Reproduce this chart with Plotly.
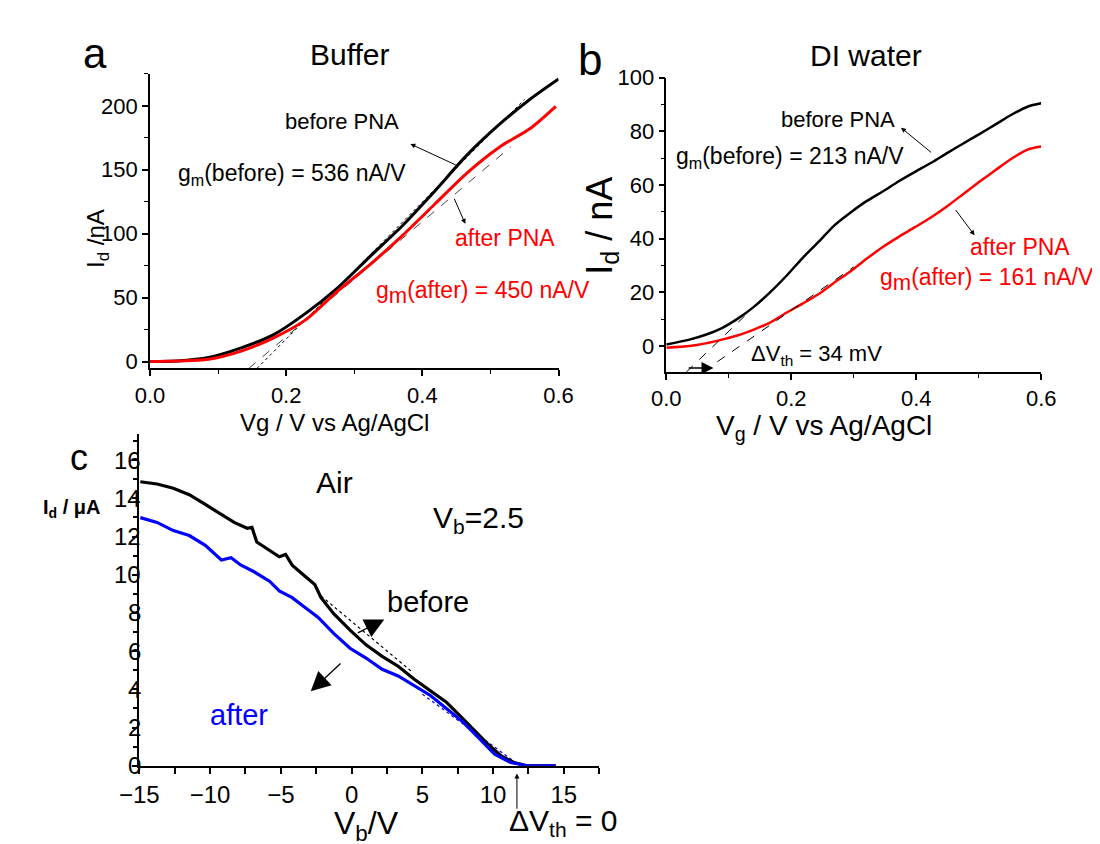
import plotly.graph_objects as go

W, H = 1100, 844
FONT = "Liberation Sans, Arial, sans-serif"

# ---------------- data: panel a (Buffer) ----------------
a_before_vg = [0.0, 0.039, 0.086, 0.134, 0.181, 0.228, 0.276, 0.323, 0.371, 0.418, 0.465, 0.513, 0.56, 0.6]
a_before_id = [0.0, 0.5, 3.2, 10.7, 20.9, 37.5, 57.9, 82.1, 106.4, 133.2, 161.2, 185.4, 205.9, 221.0]
a_after_vg = [0.0, 0.039, 0.086, 0.134, 0.181, 0.228, 0.276, 0.323, 0.371, 0.418, 0.465, 0.513, 0.56, 0.596]
a_after_id = [0.0, 0.4, 1.8, 8.2, 18.4, 32.4, 55.3, 75.8, 98.7, 123.0, 147.2, 167.6, 182.9, 199.5]
a_fit_before_vg = [0.157, 0.55]
a_fit_before_id = [-5.4, 205.0]
a_fit_after_vg = [0.145, 0.53]
a_fit_after_id = [-5.4, 168.0]

# ---------------- data: panel b (DI water) ----------------
b_before_vg = [0.0, 0.037, 0.063, 0.089, 0.115, 0.14, 0.166, 0.192, 0.218, 0.244, 0.269, 0.295, 0.321,
               0.347, 0.372, 0.398, 0.424, 0.45, 0.476, 0.501, 0.527, 0.553, 0.579, 0.6]
b_before_id = [0.6, 2.4, 4.2, 6.7, 10.3, 14.6, 20.0, 26.1, 32.8, 38.9, 45.0, 49.8, 54.1,
               57.7, 61.4, 64.9, 68.3, 72.0, 75.6, 79.0, 82.6, 86.3, 89.3, 90.5]
b_after_vg = b_before_vg
b_after_id = [-0.6, 0.0, 1.0, 2.4, 4.0, 6.1, 8.7, 12.4, 15.8, 19.4, 23.7, 27.9, 32.6,
              37.0, 40.7, 44.3, 48.0, 52.2, 56.8, 61.2, 65.6, 69.9, 73.3, 74.4]
b_fit_before_vg = [0.032, 0.138]
b_fit_before_id = [-9.7, 14.0]
b_fit_after_vg = [0.058, 0.30]
b_fit_after_id = [-9.7, 29.5]

# ---------------- data: panel c (Air) ----------------
c_before_vb = [-14.93, -13.75, -12.6, -11.47, -10.34, -9.2, -8.3, -7.38, -7.04, -6.7, -5.8, -5.11, -4.66,
               -4.2, -3.29, -2.6, -2.16, -1.25, -0.11, 1.02, 2.16, 3.29, 4.43, 5.57, 6.7, 7.84, 8.75,
               9.66, 10.57, 11.48, 12.39, 14.43]
c_before_id = [14.87, 14.75, 14.53, 14.19, 13.68, 13.16, 12.74, 12.43, 12.48, 11.71, 11.28, 10.94, 11.06,
               10.5, 9.92, 9.49, 8.8, 7.95, 7.1, 6.33, 5.73, 5.21, 4.53, 3.93, 3.33, 2.48, 1.8,
               1.11, 0.51, 0.17, 0.0, 0.0]
c_after_vb = [-14.93, -13.75, -12.6, -11.47, -10.34, -9.2, -8.52, -7.84, -6.93, -5.8, -5.11, -4.2, -3.29,
              -2.38, -1.25, -0.11, 1.02, 2.16, 3.29, 4.43, 5.57, 6.7, 7.84, 8.98, 10.11, 11.25, 12.39, 14.43]
c_after_id = [12.99, 12.74, 12.31, 12.05, 11.54, 10.77, 10.89, 10.51, 10.17, 9.66, 9.15, 8.8, 8.29,
              7.78, 6.92, 6.15, 5.64, 5.05, 4.7, 4.19, 3.68, 3.0, 2.31, 1.46, 0.6, 0.17, 0.0, 0.0]
c_fit_before_vb = [-2.16, 4.2]
c_fit_before_id = [8.89, 4.96]
c_fit_after_vb = [5.0, 11.9]
c_fit_after_id = [3.75, 0.0]
c_ytick_vals = [0, 2, 4, 6, 8, 10, 12, 14, 16]
c_ytick_text = ["0", "2", "4", "6", "8", "10", "12", "14", "16"]


def P(px, py):
    return px / W, 1 - py / H


fig = go.Figure()


def line(x, y, color, width, xa, ya, dash="solid", shape="linear"):
    fig.add_trace(go.Scatter(x=x, y=y, mode="lines", xaxis=xa, yaxis=ya,
                             line=dict(color=color, width=width, dash=dash, shape=shape,
                                       smoothing=0.7 if shape == "spline" else None),
                             showlegend=False, hoverinfo="skip"))


# panel a
line(a_fit_before_vg, a_fit_before_id, "black", 1, "x", "y", "dot")
line(a_fit_after_vg, a_fit_after_id, "#444", 1, "x", "y", "dash")
line(a_before_vg, a_before_id, "black", 3, "x", "y", shape="spline")
line(a_after_vg, a_after_id, "#ff0000", 3, "x", "y", shape="spline")
# panel b
line(b_before_vg, b_before_id, "black", 2.5, "x2", "y2", shape="spline")
line(b_after_vg, b_after_id, "#ff0000", 2.5, "x2", "y2", shape="spline")
line(b_fit_before_vg, b_fit_before_id, "black", 1, "x2", "y2", "dash")
line(b_fit_after_vg, b_fit_after_id, "black", 1, "x2", "y2", "dash")
# panel c
line(c_fit_before_vb, c_fit_before_id, "black", 1.2, "x3", "y3", "dot")
line(c_fit_after_vb, c_fit_after_id, "#0000ff", 1.2, "x3", "y3", "dot")
line(c_before_vb, c_before_id, "black", 3.2, "x3", "y3")
line(c_after_vb, c_after_id, "#0000ff", 3.2, "x3", "y3")

axis_common = dict(showgrid=False, zeroline=False, showline=True, linecolor="black",
                   ticks="outside", tickcolor="black", mirror=False,
                   tickfont=dict(family=FONT, size=22, color="black"))

fig.update_layout(
    width=W, height=H, margin=dict(l=0, r=0, t=0, b=0),
    paper_bgcolor="white", plot_bgcolor="white", showlegend=False,
    xaxis=dict(domain=[126 / W, 548 / W], range=[0, 0.6], anchor="y", dtick=0.2, tick0=0,
               tickformat=".1f", linewidth=1.5, tickwidth=1.5, ticklen=6,
               minor=dict(dtick=0.1, ticks="outside", ticklen=4, tickcolor="black", tickwidth=1.2),
               **axis_common),
    yaxis=dict(domain=[1 - 356 / H, 1 - 55 / H], range=[-5.36, 225], anchor="x", dtick=50, tick0=0,
               linewidth=1.5, tickwidth=1.5, ticklen=6,
               minor=dict(dtick=25, ticks="outside", ticklen=4, tickcolor="black", tickwidth=1.2),
               **axis_common),
    xaxis2=dict(domain=[659.3 / W, 1046.5 / W], range=[0, 0.6], anchor="y2", dtick=0.2, tick0=0,
                tickformat=".1f", linewidth=1.5, tickwidth=1.5, ticklen=6,
                minor=dict(dtick=0.1, ticks="outside", ticklen=4, tickcolor="black", tickwidth=1.2),
                **axis_common),
    yaxis2=dict(domain=[1 - 360 / H, 1 - 59 / H], range=[-9.8, 100], anchor="x2", dtick=20, tick0=0,
                linewidth=1.5, tickwidth=1.5, ticklen=6,
                minor=dict(dtick=10, ticks="outside", ticklen=4, tickcolor="black", tickwidth=1.2),
                **axis_common),
    xaxis3=dict(domain=[115 / W, 590 / W], range=[-15, 17.5], anchor="y3", dtick=5, tick0=0,
                linewidth=2, tickwidth=2, ticklen=6,
                minor=dict(dtick=2.5, ticks="outside", ticklen=6, tickcolor="black", tickwidth=2),
                **{**axis_common, "tickfont": dict(family=FONT, size=24, color="black")}),
    yaxis3=dict(domain=[1 - 762 / H, 1 - 423 / H], range=[0, 17.37], anchor="x3", dtick=2, tick0=0,
                linewidth=2, tickwidth=2, ticklen=5, showticklabels=False,
                minor=dict(dtick=1, ticks="outside", ticklen=4, tickcolor="black", tickwidth=2),
                **axis_common),
)

ann = []


def text(px, py, s, size, color="black", xanchor="center", angle=0, bold=False):
    x, y = P(px, py)
    if bold:
        s = "<b>" + s + "</b>"
    ann.append(dict(x=x, y=y, xref="paper", yref="paper", text=s, showarrow=False,
                    xanchor=xanchor, yanchor="middle", textangle=angle,
                    font=dict(family=FONT, size=size, color=color)))


def arrow(tx, ty, hx, hy, head=2, size=1.0, width=1.0):
    x, y = P(hx, hy)
    ann.append(dict(x=x, y=y, xref="paper", yref="paper", text="", showarrow=True,
                    ax=tx - hx, ay=ty - hy, axref="pixel", ayref="pixel",
                    arrowhead=head, arrowsize=size, arrowwidth=width, arrowcolor="black"))


# panel labels and titles
text(69, 34, "a", 42)
text(333, 35, "Buffer", 30)
text(580, 40, "b", 44)
text(866, 36, "DI water", 30)
text(53, 447, "c", 36)
text(317, 473, "Air", 30)
text(465, 510, "V<sub>b</sub>=2.5", 30)

# panel a texts
text(324, 104, "before PNA", 22)
text(153, 158, "g<sub>m</sub>(before) = 536 nA/V", 23, xanchor="left")
text(493, 223, "after PNA", 23, color="#ff0000")
text(357, 278, "g<sub><span style='font-size:22px'>m</span></sub>(after) = 450 nA/V", 23,
     color="#ff0000", xanchor="left")
text(317, 411, "Vg / V vs Ag/AgCl", 24)
text(72, 223, "I<sub>d</sub> /nA", 24, angle=-90)
arrow(441.7, 148.3, 395, 126.7, head=2, size=1, width=1)
arrow(440, 181.7, 451.7, 208.3, head=2, size=1, width=1)

# panel b texts
text(837, 102, "before PNA", 22)
text(787, 141, "g<sub>m</sub>(before) = 213 nA/V", 23)
text(1025, 232, "after PNA", 23, color="#ff0000")
text(990, 265, "g<sub><span style='font-size:22px'>m</span></sub>(after) = 161 nA/V", 23,
     color="#ff0000")
text(814, 342, "\u0394V<sub>th</sub> = 34 mV", 22)
text(822, 416, "V<sub>g</sub> / V vs Ag/AgCl", 28)
text(592, 210, "I<sub>d</sub> / nA", 36, angle=-90)
arrow(933.3, 136, 901.7, 110, head=2, size=1, width=1)
arrow(957.7, 193.3, 977.7, 220, head=2, size=1, width=1)
arrow(681.7, 355.7, 708, 355.7, head=2, size=1.6, width=1.5)

# panel c texts
text(413, 595, "before", 29)
text(218, 710, "after", 29, color="#0000ff")
text(45, 499, "I<sub>d</sub> / \u03bcA", 20, bold=True)
text(350, 823, "V<sub>b</sub>/V", 32)
text(553, 820, "\u0394V<sub>th</sub> = 0", 30)
arrow(340, 626.7, 368, 612.5, head=2, size=3, width=1.3)
arrow(323.3, 656.7, 292, 686, head=2, size=3, width=1.3)
arrow(505, 806.7, 505, 770, head=2, size=1, width=1)

# panel c y tick labels (overlapping the axis as in the reference)
for v, t in zip(c_ytick_vals, c_ytick_text):
    ann.append(dict(x=0, y=v, xref="x3 domain", yref="y3", text=t, showarrow=False,
                    xanchor="right", yanchor="middle", xshift=4,
                    font=dict(family=FONT, size=24, color="black")))

fig.update_layout(annotations=ann)
fig.write_html("out.html")
